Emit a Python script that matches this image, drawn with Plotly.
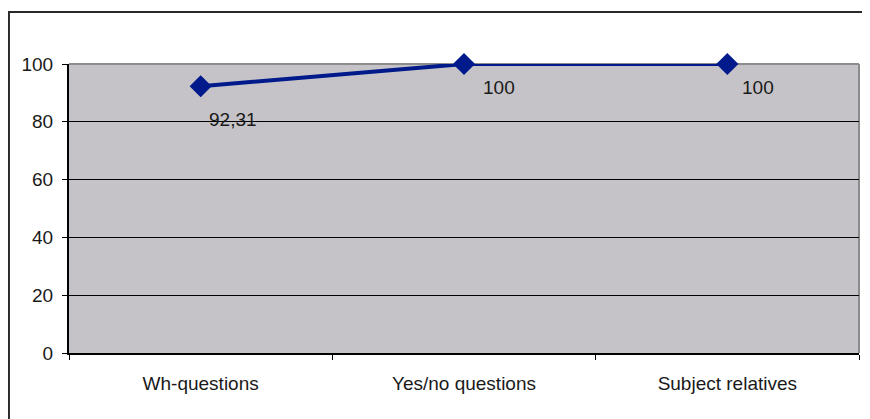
import plotly.graph_objects as go

categories = ["Wh-questions", "Yes/no questions", "Subject relatives"]
values = [92.31, 100, 100]
value_labels = ["92,31", "100", "100"]
y_ticks = [0, 20, 40, 60, 80, 100]

# label offsets (px) relative to each point, as in the reference
label_dx = [6, 17, 13]
label_dy = [-33, -23, -23]

font = dict(family="Liberation Sans, Arial, sans-serif", size=19, color="#1a1a1a")

fig = go.Figure()
fig.add_trace(go.Scatter(
    x=categories, y=values, mode="lines+markers",
    line=dict(color="#001A8C", width=4),
    marker=dict(symbol="diamond", size=17, color="#001A8C"),
    cliponaxis=False, showlegend=False, hoverinfo="skip",
))

for c, v, t, dx, dy in zip(categories, values, value_labels, label_dx, label_dy):
    fig.add_annotation(x=c, y=v, text=t, showarrow=False, xanchor="left", yanchor="middle",
                       xshift=dx, yshift=dy, font=font)

# plot-area border (top/right, gray) and outer chart frame
fig.add_shape(type="line", xref="paper", yref="paper", x0=0, x1=1, y0=1, y1=1,
              line=dict(color="#8c8c8c", width=2), layer="between")
fig.add_shape(type="line", xref="paper", yref="paper", x0=1, x1=1, y0=0, y1=1,
              line=dict(color="#8c8c8c", width=2), layer="between")
fig.add_shape(type="rect", xref="paper", yref="paper", x0=-0.076, x1=1.05, y0=-0.4, y1=1.18,
              line=dict(color="#2a2a2a", width=2), layer="above")

# the page body adds an 8px offset, so the figure is sized to the visible window
fig.update_layout(
    width=862, height=411,
    margin=dict(l=61, r=11, t=56, b=66),
    paper_bgcolor="white", plot_bgcolor="#C5C3C7",
    font=font,
    xaxis=dict(type="category", tickson="boundaries", ticks="outside", ticklen=5,
               tickcolor="black", showline=True, linecolor="black", linewidth=2,
               showgrid=False, ticklabelstandoff=12, range=[-0.5, 2.5], tickfont=font,
               automargin=False),
    yaxis=dict(range=[0, 100], tickvals=y_ticks, ticks="outside", ticklen=5,
               tickcolor="black", showline=True, linecolor="black", linewidth=2,
               showgrid=True, gridcolor="black", gridwidth=1, zeroline=False,
               ticklabelstandoff=5, tickfont=font, automargin=False),
)

fig.write_html("out.html")
